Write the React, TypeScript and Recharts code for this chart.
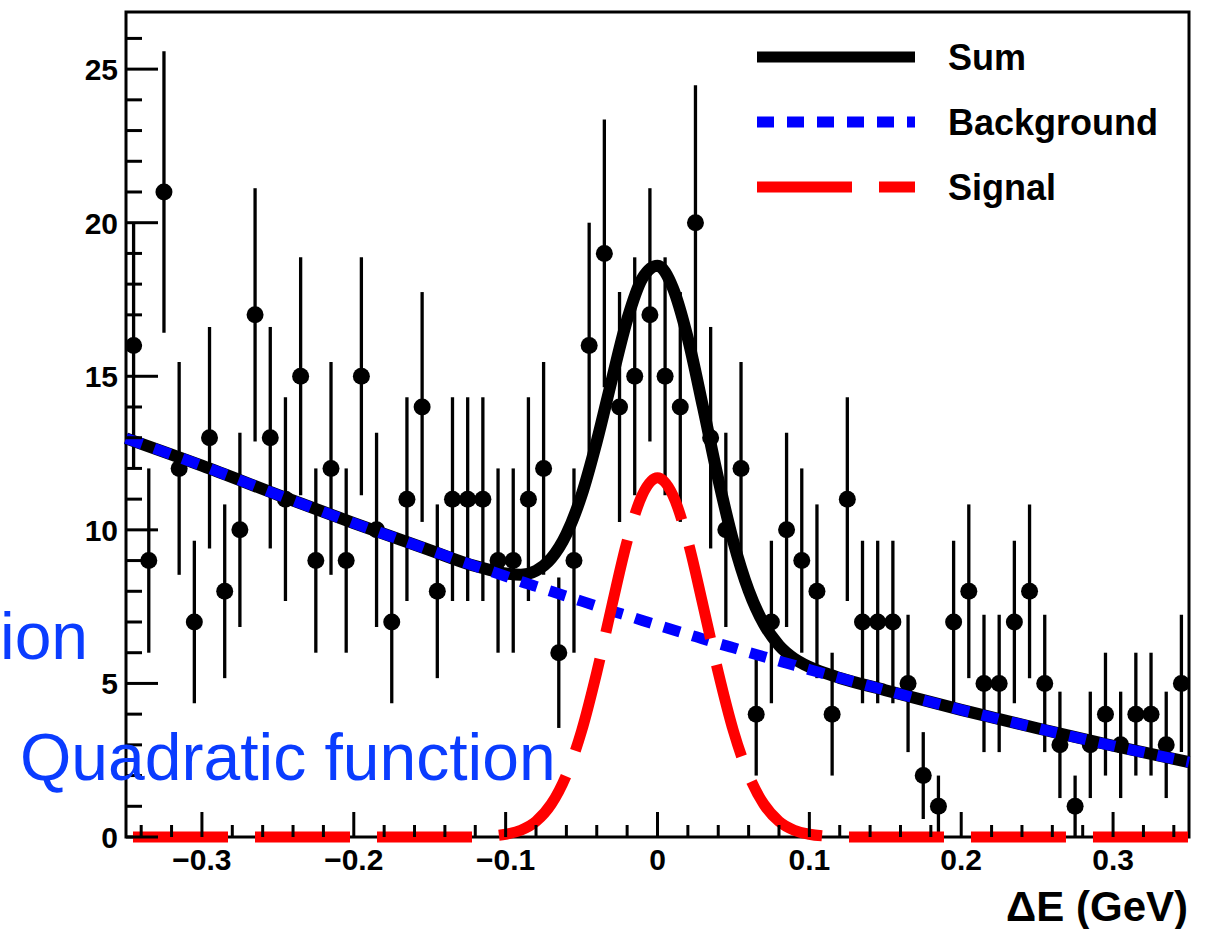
import {
  ComposedChart,
  Line,
  Scatter,
  ErrorBar,
  XAxis,
  YAxis,
} from 'recharts';

// ΔE histogram: 70 bins of 0.01 GeV between -0.35 and 0.35
const binLow = -0.35;
const binWidth = 0.01;
const counts = [
  16, 9, 21, 12, 7, 13, 8, 10, 17, 13,
  11, 15, 9, 12, 9, 15, 10, 7, 11, 14,
  8, 11, 11, 11, 9, 9, 11, 12, 6, 9,
  16, 19, 14, 15, 17, 15, 14, 20, 13, 10,
  12, 4, 7, 10, 9, 8, 4, 11, 7, 7,
  7, 5, 2, 1, 7, 8, 5, 5, 7, 8,
  5, 3, 1, 3, 4, 3, 4, 4, 3, 5,
];

// fit curves at these ΔE values
const fitX = [
  -0.35, -0.3, -0.25, -0.2, -0.15, -0.12, -0.11, -0.1, -0.09, -0.08,
  -0.07, -0.06, -0.05, -0.04, -0.03, -0.02, -0.01, 0, 0.01, 0.02,
  0.03, 0.04, 0.05, 0.06, 0.07, 0.08, 0.09, 0.1, 0.11, 0.12,
  0.15, 0.2, 0.25, 0.3, 0.35,
];
const sumY = [
  12.98, 12.09, 11.14, 10.22, 9.34, 8.82, 8.69, 8.58, 8.54, 8.67,
  9.07, 9.86, 11.13, 12.88, 14.9, 16.84, 18.19, 18.6, 17.89, 16.23,
  13.99, 11.66, 9.61, 8.03, 6.94, 6.24, 5.81, 5.54, 5.34, 5.18,
  4.78, 4.14, 3.54, 2.97, 2.44,
];
const bgY = [
  12.98, 12.09, 11.14, 10.22, 9.34, 8.82, 8.66, 8.49, 8.32, 8.16,
  8.0, 7.84, 7.68, 7.52, 7.36, 7.21, 7.05, 6.9, 6.75, 6.6,
  6.45, 6.3, 6.16, 6.01, 5.87, 5.73, 5.59, 5.45, 5.31, 5.18,
  4.78, 4.14, 3.54, 2.97, 2.44,
];
const sigY = [
  0, 0, 0, 0, 0, 0, 0.03, 0.09, 0.22, 0.51,
  1.07, 2.02, 3.45, 5.36, 7.54, 9.63, 11.14, 11.7, 11.14, 9.63,
  7.54, 5.36, 3.45, 2.02, 1.07, 0.51, 0.22, 0.09, 0.03, 0,
  0, 0, 0, 0, 0,
];

const xTicks = [
  -0.34, -0.32, -0.3, -0.28, -0.26, -0.24, -0.22, -0.2, -0.18, -0.16,
  -0.14, -0.12, -0.1, -0.08, -0.06, -0.04, -0.02, 0, 0.02, 0.04,
  0.06, 0.08, 0.1, 0.12, 0.14, 0.16, 0.18, 0.2, 0.22, 0.24,
  0.26, 0.28, 0.3, 0.32, 0.34,
];
const yTicks = [
  0, 1, 2, 3, 4, 5, 6, 7, 8, 9, 10, 11, 12, 13, 14, 15, 16, 17, 18, 19,
  20, 21, 22, 23, 24, 25, 26,
];
const xDomain = [-0.35, 0.35];
const yDomain = [0, 26.86];

const legendItems = [
  { label: 'Sum', color: '#000000', dash: undefined },
  { label: 'Background', color: '#0000ff', dash: '17 13' },
  { label: 'Signal', color: '#ff0000', dash: '95 27' },
];

const points = counts.map((n, i) => ({
  x: binLow + binWidth * (i + 0.5),
  y: n,
  err: Math.sqrt(n), // Poisson errors
}));

const fitRows = fitX.map((x, i) => ({ x, sum: sumY[i], bg: bgY[i], sig: sigY[i] }));

const FONT = '"Liberation Sans", Arial, Helvetica, sans-serif';
const W = 1215;
const H = 929;
const margin = { top: 12, right: 26, bottom: 0, left: 0 };
const yAxisWidth = 126;
const xAxisHeight = 92;

function isMajor(v: number, per: number) {
  return Math.abs(v * per - Math.round(v * per)) < 1e-6;
}

function fmtX(v: number) {
  if (Math.abs(v) < 1e-9) return '0';
  return (v < 0 ? '\u2212' : '') + Math.abs(v).toFixed(1);
}

function XTick(props: any) {
  const { x, y, payload } = props;
  const v = payload.value as number;
  const major = isMajor(v, 10);
  return (
    <g>
      <line x1={x} x2={x} y1={y} y2={y - (major ? 25 : 12)} stroke="#000" strokeWidth={3} />
      {major && (
        <text x={x} y={y + 33} textAnchor="middle" fontSize={30} fontWeight="bold" fontFamily={FONT} fill="#000">
          {fmtX(v)}
        </text>
      )}
    </g>
  );
}

function YTick(props: any) {
  const { x, y, payload } = props;
  const v = payload.value as number;
  const major = v % 5 === 0;
  return (
    <g>
      <line x1={x} x2={x + (major ? 32 : 16)} y1={y} y2={y} stroke="#000" strokeWidth={3} />
      {major && (
        <text x={x - 8} y={y + 11} textAnchor="end" fontSize={30} fontWeight="bold" fontFamily={FONT} fill="#000">
          {v}
        </text>
      )}
    </g>
  );
}

export default function App() {
  // frame of the pad, drawn underneath the chart so the curves sit on top
  const plotL = margin.left + yAxisWidth;
  const plotT = margin.top;
  const plotR = W - margin.right;
  const plotB = H - margin.bottom - xAxisHeight;
  return (
    <div style={{ position: 'absolute', left: 0, top: 0, width: W, height: H, background: '#fff' }}>
      <svg width={W} height={H} style={{ position: 'absolute', left: 0, top: 0 }}>
        <rect
          x={plotL}
          y={plotT}
          width={plotR - plotL}
          height={plotB - plotT}
          fill="none"
          stroke="#000"
          strokeWidth={3}
        />
      </svg>
      <div style={{ position: 'absolute', left: 0, top: 0 }}>
        <ComposedChart width={W} height={H} data={fitRows} margin={margin}>
          <XAxis
            type="number"
            dataKey="x"
            domain={xDomain}
            ticks={xTicks}
            interval={0}
            height={xAxisHeight}
            tickSize={0}
            tickMargin={0}
            tick={XTick}
            axisLine={false}
          />
          <YAxis
            type="number"
            domain={yDomain}
            ticks={yTicks}
            interval={0}
            width={yAxisWidth}
            tickSize={0}
            tickMargin={0}
            tick={YTick}
            axisLine={false}
          />
          <Scatter
            data={points}
            dataKey="y"
            isAnimationActive={false}
            shape={(p: any) => <circle cx={p.cx} cy={p.cy} r={8.5} fill="#000" />}
          >
            <ErrorBar dataKey="err" direction="y" width={0} stroke="#000" strokeWidth={3.3} />
          </Scatter>
          <Line
            type="monotone"
            dataKey="sum"
            stroke="#000000"
            strokeWidth={12}
            dot={false}
            activeDot={false}
            isAnimationActive={false}
            zIndex={700}
          />
          <Line
            type="monotone"
            dataKey="bg"
            stroke="#0000ff"
            strokeWidth={11}
            strokeDasharray="17 13"
            dot={false}
            activeDot={false}
            isAnimationActive={false}
            zIndex={710}
          />
          <Line
            type="monotone"
            dataKey="sig"
            stroke="#ff0000"
            strokeWidth={11}
            strokeDasharray="95 27"
            strokeDashoffset={-7}
            dot={false}
            activeDot={false}
            isAnimationActive={false}
            zIndex={720}
          />
        </ComposedChart>
      </div>
      <svg
        width={W}
        height={H}
        style={{ position: 'absolute', left: 0, top: 0, pointerEvents: 'none' }}
      >
        {legendItems.map((item, i) => {
          const cy = 57 + i * 65;
          return (
            <g key={item.label}>
              <line x1={757} x2={915} y1={cy} y2={cy} stroke={item.color} strokeWidth={11} strokeDasharray={item.dash} />
              <text x={948} y={cy + 13} fontSize={36} fontWeight="bold" fontFamily={FONT} fill="#000">
                {item.label}
              </text>
            </g>
          );
        })}
        <text x={1188} y={921} textAnchor="end" fontSize={42} fontWeight="bold" fontFamily={FONT} fill="#000">
          ΔE (GeV)
        </text>
        <text x={0} y={659} fontSize={66} fontFamily={FONT} fill="#0a3cff">
          ion
        </text>
        <text x={20} y={780} fontSize={66} fontFamily={FONT} fill="#0a3cff">
          Quadratic function
        </text>
      </svg>
    </div>
  );
}
